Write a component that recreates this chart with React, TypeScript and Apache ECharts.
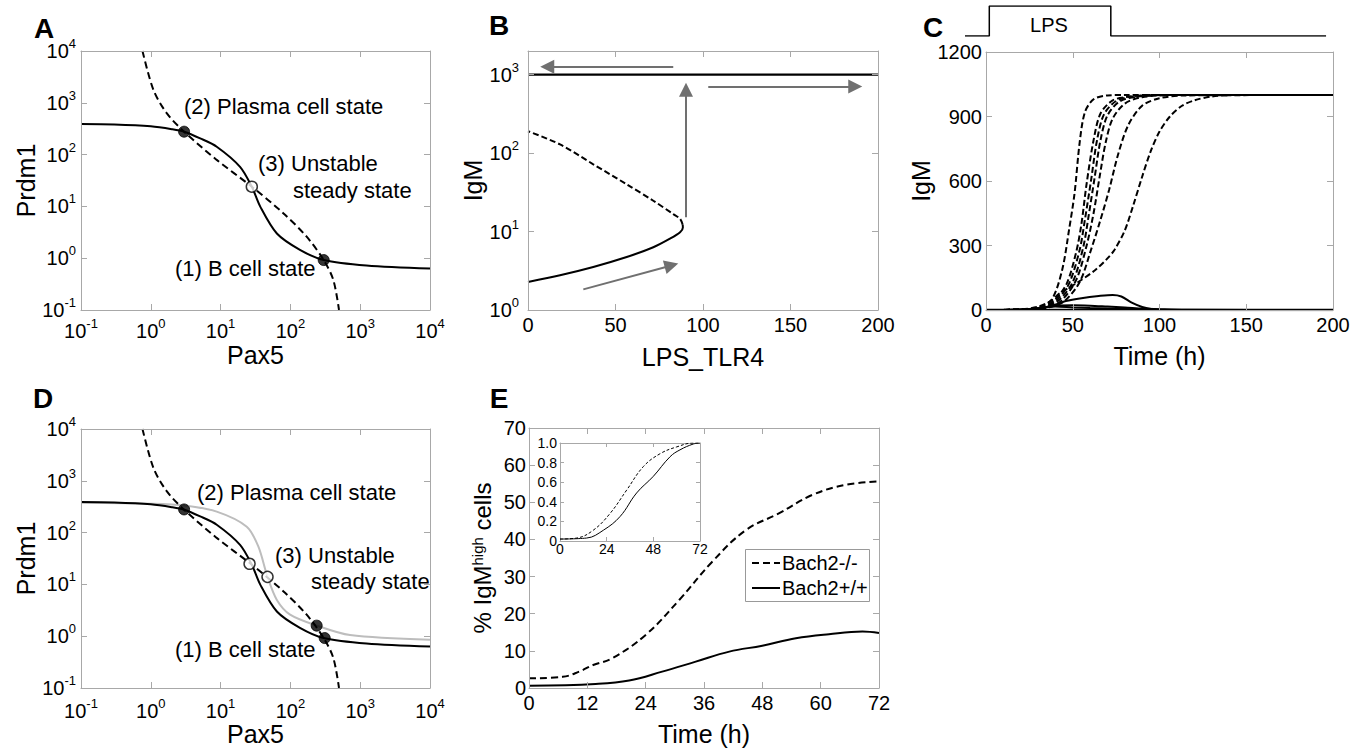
import React, { useEffect, useRef } from 'react';
import * as echarts from 'echarts';

const FONT = '"Liberation Sans", Arial, Helvetica, sans-serif';
const AXIS_GREY = '#a8a8a8';
const ARROW_GREY = '#707070';
const CURVE_GREY = '#bdbdbd';

// ---------- Panel A & D : nullclines (Pax5, Prdm1) ----------
const prdm1Nullcline = [[0.1, 390], [0.3, 382], [1, 352], [2, 310], [3, 277], [5.1, 206], [8.8, 142], [19, 58], [28, 24], [37, 9.9], [64, 3.0], [137, 1.45], [300, 0.92], [1230, 0.72], [10000, 0.63]];
const pax5Nullcline = [[0.76, 10000], [1.09, 1780], [1.69, 630], [3, 277], [8.8, 79], [28, 24], [79, 7.4], [171, 2.6], [300, 0.92], [412, 0.38], [497, 0.1]];
const prdm1NullclineGrey = [[0.1, 378], [1, 362], [3.0, 335], [8.8, 254], [23.7, 130], [34.7, 54], [47, 14], [64, 5.0], [99, 2.6], [238, 1.6], [715, 1.05], [10000, 0.85]];
const stableA = [[3, 277], [300, 0.92]];
const unstableA = [[28, 24]];
const stableD = [[3, 280], [238, 1.6], [310, 0.92]];
const unstableD = [[26, 25], [47, 14]];

// ---------- Panel B : bifurcation (LPS_TLR4, IgM) ----------
const bHighBranch = [[0, 1000], [200, 1000]];
const bLowStable = [[0, 2.28], [18.3, 2.77], [37.3, 3.53], [56.4, 4.73], [71.6, 6.3], [81.1, 8.1], [86.9, 9.8], [88.5, 11.3], [88.4, 12.2]];
const bUnstable = [[88.4, 12.2], [86.9, 14.5], [83, 16.7], [71.6, 24.7], [56.4, 40], [37.3, 72], [18.3, 129], [0, 190]];
const bArrows = [
  [[83, 1260], [11, 1260]],
  [[90.3, 15.2], [90.3, 640]],
  [[103, 705], [187, 705]],
  [[31.6, 1.83], [82, 3.7]],
];

// ---------- Panel C : IgM time courses ----------
const cOn1 = [[0, 0], [20, 2], [30, 10], [38, 50], [44, 190], [48, 380], [51, 540], [54, 780], [57, 920], [62, 980], [70, 998], [80, 1000], [200, 1000]];
const cOn2 = [[0, 0], [20, 2], [32, 12], [40, 50], [46.6, 124], [52, 270], [55, 400], [58, 588], [62, 790], [66, 914], [73, 975], [81, 991], [95, 1000], [200, 1000]];
const cOn3 = [[0, 0], [20, 2], [33, 12], [41, 48], [48, 125], [54, 280], [57, 420], [60.5, 600], [64, 790], [68, 910], [75, 972], [84, 992], [100, 1000], [200, 1000]];
const cOn4 = [[0, 0], [22, 2], [34, 12], [42, 45], [50, 130], [56, 290], [59, 430], [62.5, 610], [66, 790], [70, 905], [77, 970], [87, 992], [105, 1000], [200, 1000]];
const cOn5 = [[0, 0], [22, 2], [35, 12], [43, 40], [52, 140], [58, 300], [62, 450], [65.5, 620], [69, 780], [73, 890], [80, 960], [90, 990], [110, 1000], [200, 1000]];
const cOn6 = [[0, 0], [24, 2], [36, 12], [45, 40], [54, 130], [60.5, 279], [66, 420], [71, 560], [76, 720], [82, 860], [90, 950], [100, 985], [115, 998], [200, 1000]];
const cOn7 = [[0, 0], [20, 3], [30, 15], [38, 45], [42, 75], [52, 124], [63, 186], [70, 240], [74, 279], [80, 370], [85, 490], [90, 620], [95, 740], [100, 830], [106, 900], [113, 950], [120, 975], [130, 993], [145, 1000], [200, 1000]];
const cOff1 = [[0, 0], [15, 1], [25, 4], [35, 14], [42, 30], [46, 42], [55, 55], [65, 65], [73, 70], [78, 63], [84, 34], [90, 14], [96, 4], [105, 0], [200, 0]];
const cOff2 = [[0, 0], [20, 2], [30, 8], [40, 20], [50, 22], [60, 20], [70, 16], [80, 12], [90, 7], [100, 4], [115, 1], [200, 0]];
const cOff3 = [[0, 0], [20, 2], [30, 8], [40, 16], [50, 12], [60, 9], [70, 7], [80, 5], [95, 2], [110, 0], [200, 0]];
const cBaseline = [[0, 0], [200, 0]];
const lpsPulse = [[-12, 0], [2, 0], [2, 1], [72, 1], [72, 0], [196, 0]];

// ---------- Panel E : % IgM-high cells ----------
const legendNames = ['Bach2-/-', 'Bach2+/+'];
const bach2KO = [[0, 2.6], [6.9, 3.0], [10.3, 4.4], [13.2, 6.2], [17.1, 8.0], [24, 14.3], [30.9, 23.7], [37.7, 34], [44.6, 42.5], [51.4, 47], [58.3, 52], [65.2, 54.7], [72, 55.6]];
const bach2WT = [[0, 0.6], [13.7, 1.1], [20.6, 2.0], [27.4, 4.4], [34.3, 7.1], [41.2, 9.8], [48, 11.4], [54.9, 13.4], [61.7, 14.5], [68.6, 15.2], [72, 14.8]];
const insetKO = [[0, 0.02], [8.6, 0.03], [17.1, 0.11], [25.7, 0.28], [34.3, 0.52], [42.9, 0.76], [51.4, 0.89], [60, 0.96], [68.6, 1.0], [72, 1.0]];
const insetWT = [[0, 0.02], [13.7, 0.03], [22.3, 0.11], [30.9, 0.25], [39.4, 0.49], [48, 0.66], [56.6, 0.86], [61.7, 0.93], [68.6, 0.99], [72, 1.0]];

function buildOption(): any {
  const xAxis: any[] = [];
  const yAxis: any[] = [];

  const logFmt = (v: number) => {
    const e = Math.log10(v);
    const r = Math.round(e);
    if (Math.abs(e - r) > 1e-6) return '';
    return `{b|10}{s|${r}}`;
  };
  const logRich = {
    b: { fontSize: 20, lineHeight: 28, fontFamily: FONT, color: '#000' },
    s: { fontSize: 13, lineHeight: 13, verticalAlign: 'top', fontFamily: FONT, color: '#000' },
  };

  function addAxis(dir: 'x' | 'y', grid: number, cfg: any) {
    const arr = dir === 'x' ? xAxis : yAxis;
    const idx = arr.length;
    const common: any = {
      gridIndex: grid,
      type: cfg.type,
      min: cfg.min,
      max: cfg.max,
      axisLine: { show: true, onZero: false, lineStyle: { color: AXIS_GREY, width: 1 } },
      axisTick: { show: true, inside: true, length: cfg.tickLen ?? 6, lineStyle: { color: AXIS_GREY, width: 1 } },
      splitLine: { show: false },
      minorTick: { show: false },
      z: 5,
    };
    if (cfg.type === 'log') common.logBase = 10;
    else common.interval = cfg.interval;
    const label: any = {
      show: true,
      margin: cfg.margin ?? 6,
      fontSize: cfg.fontSize ?? 20,
      fontFamily: FONT,
      color: '#000',
      showMinLabel: true,
      showMaxLabel: true,
    };
    if (cfg.type === 'log') {
      label.formatter = logFmt;
      label.rich = logRich;
    } else {
      label.formatter = cfg.fmt ?? ((v: number) => String(v));
    }
    arr.push({
      ...common,
      position: dir === 'x' ? 'bottom' : 'left',
      name: cfg.name,
      nameLocation: 'middle',
      nameGap: cfg.nameGap,
      nameTextStyle: { fontSize: cfg.nameSize ?? 25, fontFamily: FONT, color: '#000', rich: cfg.nameRich },
      axisLabel: label,
    });
    arr.push({ ...common, position: dir === 'x' ? 'top' : 'right', axisLabel: { show: false } });
    return idx;
  }

  const gridBase = { containLabel: false, outerBoundsMode: 'none' };
  const grid = [
    { ...gridBase, left: 81, top: 51, width: 349, height: 259 },
    { ...gridBase, left: 528, top: 51, width: 350, height: 259 },
    { ...gridBase, left: 986, top: 52, width: 347, height: 258 },
    { ...gridBase, left: 81, top: 429, width: 349, height: 259 },
    { ...gridBase, left: 529, top: 428, width: 350, height: 260 },
    { ...gridBase, left: 560, top: 443, width: 140, height: 98, show: true, backgroundColor: '#fff', borderWidth: 0, z: 3 },
    { ...gridBase, left: 965, top: 6, width: 368, height: 30 },
  ];

  // A
  const ax = addAxis('x', 0, { type: 'log', min: 0.1, max: 10000, name: 'Pax5', nameGap: 32, margin: 7 });
  const ay = addAxis('y', 0, { type: 'log', min: 0.1, max: 10000, name: 'Prdm1', nameGap: 41, margin: 5 });
  // B
  const bx = addAxis('x', 1, { type: 'value', min: 0, max: 200, interval: 50, name: 'LPS_TLR4', nameGap: 34, margin: 5 });
  const by = addAxis('y', 1, { type: 'log', min: 1, max: 2000, name: 'IgM', nameGap: 35, margin: 9 });
  // C
  const cx = addAxis('x', 2, { type: 'value', min: 0, max: 200, interval: 50, name: 'Time (h)', nameGap: 33, margin: 5 });
  const cy = addAxis('y', 2, { type: 'value', min: 0, max: 1200, interval: 300, name: 'IgM', nameGap: 47, margin: 4 });
  // D
  const dx = addAxis('x', 3, { type: 'log', min: 0.1, max: 10000, name: 'Pax5', nameGap: 26, margin: 9 });
  const dy = addAxis('y', 3, { type: 'log', min: 0.1, max: 10000, name: 'Prdm1', nameGap: 41, margin: 5 });
  // E
  const ex = addAxis('x', 4, { type: 'value', min: 0, max: 72, interval: 12, name: 'Time (h)', nameGap: 33, margin: 5 });
  const ey = addAxis('y', 4, {
    type: 'value', min: 0, max: 70, interval: 10, name: '% IgM{sup|high} cells', nameGap: 35, margin: 3, nameSize: 24,
    nameRich: { sup: { fontSize: 15, lineHeight: 15, verticalAlign: 'top', fontFamily: FONT, color: '#000' } },
  });
  // inset
  const ix = addAxis('x', 5, { type: 'value', min: 0, max: 72, interval: 24, margin: 1, fontSize: 14, tickLen: 4 });
  const iy = addAxis('y', 5, { type: 'value', min: 0, max: 1, interval: 0.2, margin: 3, fontSize: 14, tickLen: 4, fmt: (v: number) => (v === 0 ? '0' : v.toFixed(1)) });
  // pulse
  const px = xAxis.length;
  xAxis.push({ gridIndex: 6, type: 'value', min: -12, max: 200, show: false });
  const py = yAxis.length;
  yAxis.push({ gridIndex: 6, type: 'value', min: 0, max: 1, show: false });

  const line = (xi: number, yi: number, data: any, opts: any = {}) => ({
    type: 'line', xAxisIndex: xi, yAxisIndex: yi, data, symbol: 'none', smooth: opts.smooth ?? 0.3,
    name: opts.name, silent: true, z: opts.z ?? 2,
    lineStyle: { color: opts.color ?? '#000', width: opts.width ?? 2, type: opts.dash ?? 'solid' },
    itemStyle: { color: opts.color ?? '#000' },
  });
  const dots = (xi: number, yi: number, data: any, open: boolean, size = 11) => ({
    type: 'scatter', xAxisIndex: xi, yAxisIndex: yi, data, symbol: 'circle', symbolSize: size, silent: true, z: 4,
    itemStyle: open ? { color: '#fff', borderColor: '#000', borderWidth: 1.5 } : { color: '#000', borderColor: '#000', borderWidth: 1 },
  });

  const DASH = [7, 4];
  const series: any[] = [
    // A
    line(ax, ay, prdm1Nullcline),
    line(ax, ay, pax5Nullcline, { dash: DASH }),
    dots(ax, ay, stableA, false),
    dots(ax, ay, unstableA, true),
    // B
    line(bx, by, bHighBranch, { smooth: false, width: 2.2 }),
    line(bx, by, bLowStable),
    line(bx, by, bUnstable, { dash: [6, 3] }),
    {
      type: 'lines', coordinateSystem: 'cartesian2d', xAxisIndex: bx, yAxisIndex: by, silent: true, z: 3,
      data: bArrows.map((c) => ({ coords: c })),
      symbol: ['none', 'triangle'], symbolSize: 14,
      lineStyle: { color: ARROW_GREY, width: 2, opacity: 1, curveness: 0 },
      itemStyle: { color: ARROW_GREY },
    },
    // C
    line(cx, cy, cOff1),
    line(cx, cy, cOff2),
    line(cx, cy, cOff3),
    line(cx, cy, cBaseline, { smooth: false, width: 2.5 }),
    ...[cOn1, cOn2, cOn3, cOn4, cOn5, cOn6, cOn7].map((d) => line(cx, cy, d, { dash: [6, 3] })),
    line(px, py, lpsPulse, { smooth: false, width: 1.5 }),
    // D
    line(dx, dy, prdm1NullclineGrey, { color: CURVE_GREY }),
    line(dx, dy, prdm1Nullcline),
    line(dx, dy, pax5Nullcline, { dash: DASH }),
    dots(dx, dy, stableD, false),
    dots(dx, dy, unstableD, true),
    // E
    line(ex, ey, bach2KO, { dash: DASH, name: legendNames[0], smooth: 0.4 }),
    line(ex, ey, bach2WT, { name: legendNames[1], smooth: 0.4 }),
    line(ix, iy, insetKO, { dash: [3, 2], width: 1, z: 6, smooth: 0.4 }),
    line(ix, iy, insetWT, { width: 1, z: 6, smooth: 0.4 }),
  ];

  const txt = (text: string, x: number, y: number, size: number, opts: any = {}) => ({
    type: 'text', x, y, silent: true, z: 100,
    style: {
      text, fill: '#000', font: `${opts.bold ? 'bold ' : ''}${size}px ${FONT}`,
      textAlign: opts.align ?? 'left', textVerticalAlign: 'middle',
    },
  });

  const graphic = [
    txt('A', 44, 28, 28, { bold: true, align: 'center' }),
    txt('B', 499, 25, 28, { bold: true, align: 'center' }),
    txt('C', 933, 27, 28, { bold: true, align: 'center' }),
    txt('D', 43, 398, 28, { bold: true, align: 'center' }),
    txt('E', 499, 398, 28, { bold: true, align: 'center' }),
    txt('LPS', 1049, 25, 20, { align: 'center' }),
    txt('(2) Plasma cell state', 184, 106, 22),
    txt('(3) Unstable', 258, 163, 22),
    txt('steady state', 293, 190, 22),
    txt('(1) B cell state', 175, 268, 22),
    txt('(2) Plasma cell state', 197, 492, 22),
    txt('(3) Unstable', 275, 555, 22),
    txt('steady state', 311, 581, 22),
    txt('(1) B cell state', 175, 649, 22),
    // legend of panel E
    { type: 'rect', z: 100, silent: true, shape: { x: 745.5, y: 549.5, width: 124, height: 52 }, style: { fill: '#fff', stroke: '#999', lineWidth: 1 } },
    { type: 'line', z: 101, silent: true, shape: { x1: 752, y1: 563, x2: 780, y2: 563 }, style: { stroke: '#000', lineWidth: 2, lineDash: DASH } },
    { type: 'line', z: 101, silent: true, shape: { x1: 752, y1: 588, x2: 780, y2: 588 }, style: { stroke: '#000', lineWidth: 2 } },
    { ...txt(legendNames[0], 782, 563, 20), z: 102 },
    { ...txt(legendNames[1], 782, 588, 20), z: 102 },
  ];

  return {
    animation: false,
    backgroundColor: '#fff',
    grid,
    xAxis,
    yAxis,
    series,
    graphic,
  };
}

export default function App() {
  const ref = useRef<HTMLDivElement>(null);
  useEffect(() => {
    document.body.style.margin = '0';
    const chart = echarts.init(ref.current as HTMLDivElement, null, { renderer: 'svg' });
    chart.setOption(buildOption());
    return () => chart.dispose();
  }, []);
  return <div ref={ref} style={{ width: 1366, height: 752 }} />;
}
